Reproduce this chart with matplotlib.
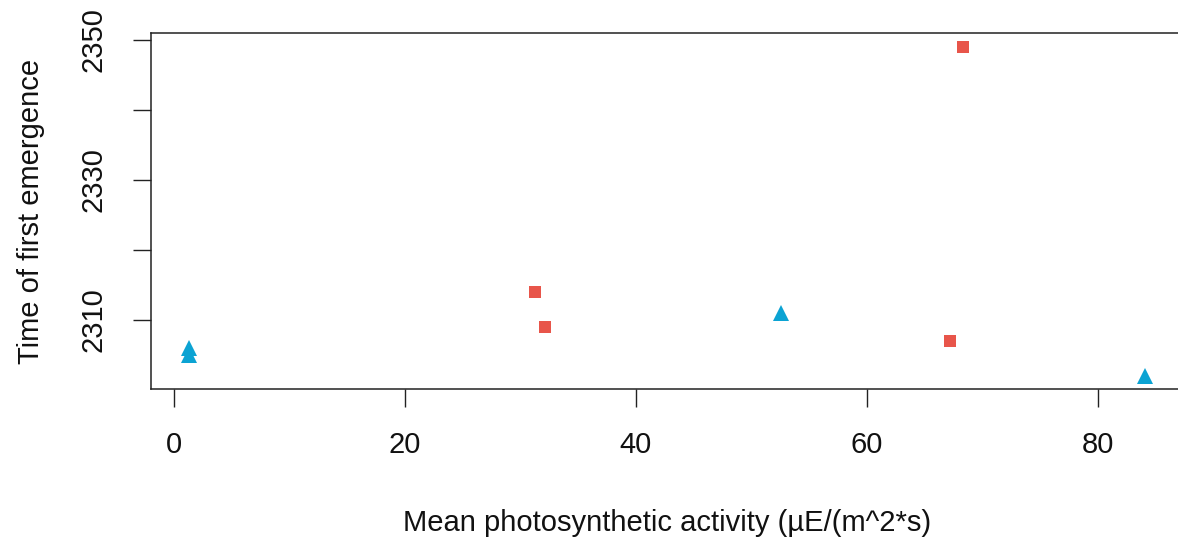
import matplotlib
matplotlib.use("Agg")
import matplotlib.pyplot as plt

plt.rcParams['font.family'] = ['Liberation Sans', 'DejaVu Sans']

# light groups: squares and triangles
sq_activity = [31.3, 32.1, 67.2, 68.3]
sq_emergence = [2314, 2309, 2307, 2349]
tri_activity = [1.3, 1.3, 52.6, 84.1]
tri_emergence = [2306, 2305, 2311, 2302]

x_ticks = [0, 20, 40, 60, 80]
y_ticks = [2310, 2320, 2330, 2340, 2350]
y_ticklabels = ['2310', '', '2330', '', '2350']

fig = plt.figure(figsize=(11.78, 5.38), dpi=100)
ax = fig.add_axes([151 / 1178, 1 - 389.3 / 538, (1183 - 151) / 1178, (389.3 - 33.3) / 538])

ax.plot(sq_activity, sq_emergence, linestyle='none', marker='s', markersize=9,
        color='#E8554A', markeredgewidth=0)
ax.plot(tri_activity, tri_emergence, linestyle='none', marker='^', markersize=11.5,
        color='#0BA3D3', markeredgewidth=0)

ax.set_xlim(-2.0, 87.4)
ax.set_ylim(2300.1, 2350.9)
ax.set_xticks(x_ticks)
ax.set_yticks(y_ticks)
ax.set_yticklabels(y_ticklabels, rotation=90, va='center')

for s in ax.spines.values():
    s.set_linewidth(1.1)
    s.set_color('#222222')
ax.tick_params(axis='both', length=13, width=1.0, color='#222222',
               labelsize=21, labelcolor='#111111')
ax.tick_params(axis='x', pad=17)
ax.tick_params(axis='y', pad=18)

ax.set_xlabel('Mean photosynthetic activity (µE/(m^2*s)', fontsize=21,
              labelpad=36, color='#111111')
ax.set_ylabel('Time of first emergence', fontsize=21, labelpad=25, color='#111111')

fig.savefig('out.png', dpi=100)
